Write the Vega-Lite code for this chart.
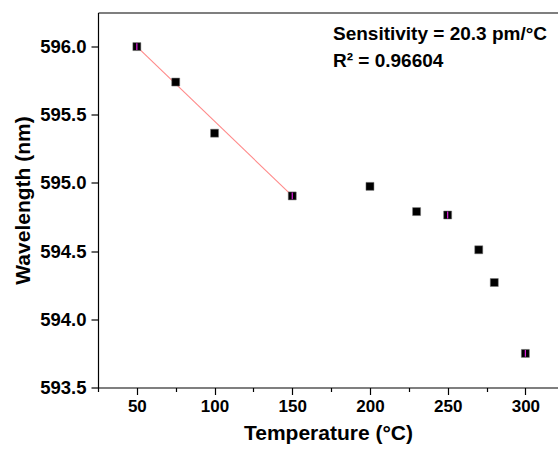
{
  "$schema": "https://vega.github.io/schema/vega-lite/v6.json",
  "width": 460,
  "height": 375,
  "autosize": "none",
  "padding": {"left": 98, "top": 12.5, "right": 0, "bottom": 64.5},
  "background": "white",
  "config": {
    "view": {"stroke": null},
    "font": "Liberation Sans",
    "axis": {
      "domainColor": "#000000",
      "domainWidth": 1.2,
      "tickColor": "#000000",
      "tickWidth": 1.2,
      "labelColor": "#000000",
      "titleColor": "#000000",
      "labelFont": "Liberation Sans",
      "titleFont": "Liberation Sans",
      "labelFontWeight": "bold",
      "titleFontWeight": "bold",
      "grid": false
    }
  },
  "datasets": {
    "pts": [
      {"temp": 50, "wl": 596.0, "err": 0.025},
      {"temp": 75, "wl": 595.74, "err": 0},
      {"temp": 100, "wl": 595.365, "err": 0},
      {"temp": 150, "wl": 594.905, "err": 0.025},
      {"temp": 200, "wl": 594.975, "err": 0},
      {"temp": 230, "wl": 594.79, "err": 0},
      {"temp": 250, "wl": 594.765, "err": 0.025},
      {"temp": 270, "wl": 594.51, "err": 0},
      {"temp": 280, "wl": 594.27, "err": 0},
      {"temp": 300, "wl": 593.75, "err": 0.025}
    ],
    "fit": [
      {"temp": 50, "wl": 596.0},
      {"temp": 150, "wl": 594.905}
    ]
  },
  "layer": [
    {
      "data": {"name": "fit"},
      "mark": {"type": "line", "color": "#ff8a8a", "strokeWidth": 1.1},
      "encoding": {
        "x": {
          "field": "temp", "type": "quantitative",
          "scale": {"domain": [25, 321], "nice": false, "zero": false},
          "axis": {"orient": "top", "labels": false, "ticks": false, "title": null, "domain": true}
        },
        "y": {
          "field": "wl", "type": "quantitative", "title": "Wavelength (nm)",
          "scale": {"domain": [593.5, 596.25], "nice": false, "zero": false},
          "axis": {
            "orient": "left",
            "values": [593.5, 593.75, 594, 594.25, 594.5, 594.75, 595, 595.25, 595.5, 595.75, 596],
            "labelExpr": "(datum.value * 2) % 1 === 0 ? format(datum.value, '.1f') : ''",
            "tickSize": {"condition": {"test": "(datum.value * 2) % 1 === 0", "value": 7}, "value": 4},
            "labelFontSize": 18.5,
            "labelPadding": 5,
            "title": "Wavelength (nm)",
            "titleFontSize": 21,
            "titlePadding": 6
          }
        }
      }
    },
    {
      "data": {"name": "pts"},
      "mark": {"type": "square", "color": "#000000", "size": 64, "opacity": 1, "stroke": "#777777", "strokeWidth": 0.5},
      "encoding": {
        "x": {
          "field": "temp", "type": "quantitative",
          "axis": {
            "orient": "bottom",
            "values": [25, 50, 75, 100, 125, 150, 175, 200, 225, 250, 275, 300],
            "labelExpr": "datum.value % 50 === 0 ? datum.label : ''",
            "tickSize": {"condition": {"test": "datum.value % 50 === 0", "value": 7}, "value": 4},
            "labelFontSize": 17,
            "labelPadding": 4,
            "title": "Temperature (°C)",
            "titleFontSize": 21,
            "titlePadding": 8
          }
        },
        "y": {"field": "wl", "type": "quantitative", "title": "Wavelength (nm)"}
      }
    },
    {
      "data": {"name": "pts"},
      "transform": [{"filter": "datum.err > 0"}],
      "mark": {"type": "errorbar", "color": "#e020e0", "thickness": 1.2},
      "encoding": {
        "x": {"field": "temp", "type": "quantitative", "axis": null},
        "y": {"field": "wl", "type": "quantitative", "title": "Wavelength (nm)"},
        "yError": {"field": "err"}
      }
    },
    {
      "data": {"values": [{}]},
      "mark": {
        "type": "text",
        "text": ["Sensitivity = 20.3 pm/°C", "R² = 0.96604"],
        "align": "left",
        "baseline": "alphabetic",
        "font": "Liberation Sans",
        "fontWeight": "bold",
        "fontSize": 19,
        "lineHeight": 27,
        "color": "#000000"
      },
      "encoding": {
        "x": {"datum": 176.2, "type": "quantitative", "axis": null},
        "y": {"datum": 596.048, "type": "quantitative", "title": "Wavelength (nm)"}
      }
    }
  ],
  "resolve": {"axis": {"x": "independent"}}
}
